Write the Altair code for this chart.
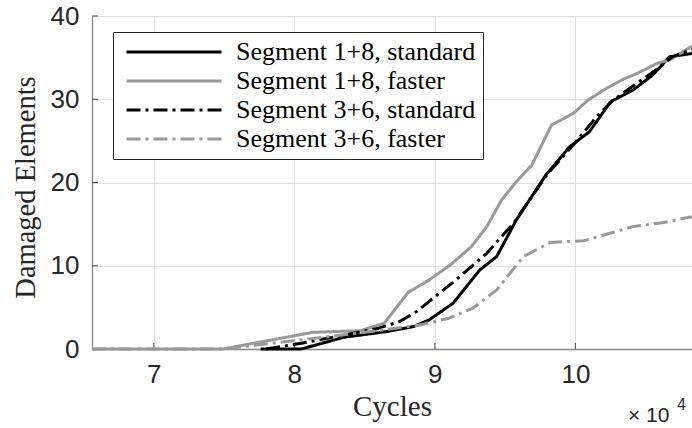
import altair as alt
import pandas as pd

# ---------------- data (x in units of 10^4 cycles) ----------------
series_names = [
    "Segment 1+8, standard",
    "Segment 1+8, faster",
    "Segment 3+6, standard",
    "Segment 3+6, faster",
]

s18_std_x = [7.76, 8.05, 8.35, 8.66, 8.85, 8.96, 9.13, 9.32, 9.44, 9.58, 9.79, 9.96,
             10.10, 10.25, 10.41, 10.55, 10.67, 10.83]
s18_std_y = [0, 0, 1.4, 2.1, 2.7, 3.5, 5.5, 9.5, 11.1, 15.5, 20.9, 24.3,
             26.1, 29.7, 31.1, 32.9, 35.1, 35.5]

s18_fast_x = [6.56, 7.49, 8.13, 8.47, 8.64, 8.81, 8.96, 9.11, 9.26, 9.37, 9.475, 9.58,
              9.69, 9.83, 9.985, 10.09, 10.22, 10.34, 10.44, 10.58, 10.67, 10.83]
s18_fast_y = [0, 0, 2.0, 2.2, 3.1, 6.8, 8.3, 10.1, 12.3, 14.7, 17.9, 20.1,
              22.1, 26.9, 28.3, 29.9, 31.3, 32.4, 33.1, 34.3, 34.7, 36.4]

s36_std_x = [7.80, 8.05, 8.30, 8.60, 8.75, 8.87, 9.15, 9.37, 9.56, 9.80, 10.00,
             10.15, 10.27, 10.41, 10.58, 10.69, 10.83]
s36_std_y = [0, 0.7, 1.5, 2.5, 3.3, 4.5, 8.3, 11.5, 15.1, 21.0, 24.8,
             27.9, 29.9, 31.6, 33.6, 35.1, 36.0]

s36_fast_x = [6.56, 7.49, 8.00, 8.50, 8.90, 9.10, 9.27, 9.44, 9.63, 9.82, 10.06,
              10.41, 10.63, 10.83]
s36_fast_y = [0, 0, 1.0, 2.0, 2.9, 3.7, 4.9, 7.1, 11.1, 12.8, 13.0,
              14.7, 15.2, 15.9]

x_ticks = [7, 8, 9, 10]
y_ticks = [0, 10, 20, 30, 40]

series_colors = ["#000000", "#999999", "#000000", "#999999"]
series_dashes = [[1, 0], [1, 0], [14, 5, 3, 5], [14, 5, 3, 5]]

# ---------------- build table ----------------
rows = []
for order, (name, xs, ys) in enumerate(zip(
        series_names,
        [s18_std_x, s18_fast_x, s36_std_x, s36_fast_x],
        [s18_std_y, s18_fast_y, s36_std_y, s36_fast_y])):
    for xv, yv in zip(xs, ys):
        rows.append({"series": name, "cycles": xv, "damaged": yv, "k": order})
df = pd.DataFrame(rows)

W, H = 600, 333
x_scale = alt.Scale(domain=[6.56, 10.83], nice=False, zero=False)
y_scale = alt.Scale(domain=[0, 40], nice=False)

x_axis = alt.Axis(values=x_ticks, title="Cycles", grid=True,
                  titleFont="Liberation Serif", titleFontSize=29,
                  titleFontWeight="normal", titleColor="#262626",
                  titleX=300, titleY=66, titleBaseline="alphabetic",
                  titleAlign="center",
                  labelFont="Liberation Sans", labelFontSize=26,
                  labelColor="#262626", labelPadding=12,
                  labelFlush=False, labelOverlap=False,
                  ticks=False, tickSize=0,
                  domainColor="#888888", domainWidth=1.3,
                  gridColor="#e0e0e0", gridWidth=1)
y_axis = alt.Axis(values=y_ticks, title="Damaged Elements", grid=True,
                  titleFont="Liberation Serif", titleFontSize=28.5,
                  titleFontWeight="normal", titleColor="#262626",
                  titleX=-67, titleY=171, titleAngle=270,
                  titleBaseline="middle", titleAlign="center",
                  labelFont="Liberation Sans", labelFontSize=26,
                  labelColor="#262626", labelPadding=13,
                  labelFlush=False, labelOverlap=False,
                  ticks=False, tickSize=0,
                  domainColor="#888888", domainWidth=1.3,
                  gridColor="#e0e0e0", gridWidth=1)

legend = alt.Legend(
    title=None,
    orient="none",
    legendX=21,
    legendY=16,
    padding=7,
    strokeColor="#262626",
    fillColor="white",
    cornerRadius=0,
    labelFont="Liberation Serif",
    labelFontSize=26,
    labelColor="black",
    labelLimit=0,
    labelOffset=90,
    rowPadding=3,
    symbolType="M-1.3,0L17.7,0",
    symbolSize=100,
    symbolStrokeWidth=3,
    symbolOpacity=1,
)

lines = alt.Chart(df).mark_line(strokeWidth=3, strokeJoin="round").encode(
    x=alt.X("cycles:Q", scale=x_scale, axis=x_axis),
    y=alt.Y("damaged:Q", scale=y_scale, axis=y_axis),
    color=alt.Color("series:N", scale=alt.Scale(domain=series_names, range=series_colors),
                    legend=legend),
    strokeDash=alt.StrokeDash("series:N", scale=alt.Scale(domain=series_names, range=series_dashes),
                              legend=legend),
    order=alt.Order("cycles:Q"),
)

ytick_marks = alt.Chart(pd.DataFrame({"v": y_ticks})).mark_rule(
    color="#444444", strokeWidth=1).encode(
    y=alt.Y("v:Q", scale=y_scale, axis=y_axis),
    x=alt.value(0), x2=alt.value(6))

xtick_marks = alt.Chart(pd.DataFrame({"v": x_ticks})).mark_rule(
    color="#444444", strokeWidth=1).encode(
    x=alt.X("v:Q", scale=x_scale, axis=x_axis),
    y=alt.value(H), y2=alt.value(H - 6))

mult_text = alt.Chart(pd.DataFrame({"t": ["× 10"]})).mark_text(
    align="left", baseline="alphabetic", font="Liberation Sans",
    fontSize=21, color="#262626").encode(
    text="t:N", x=alt.value(536), y=alt.value(406))

exp_text = alt.Chart(pd.DataFrame({"t": ["4"]})).mark_text(
    align="left", baseline="alphabetic", font="Liberation Sans",
    fontSize=16, color="#262626").encode(
    text="t:N", x=alt.value(585), y=alt.value(394))

chart = alt.layer(ytick_marks, xtick_marks, lines, mult_text, exp_text).properties(
    width=W, height=H,
    autosize=alt.AutoSizeParams(type="none"),
    padding={"left": 92, "top": 16, "right": 0, "bottom": 79},
    background="white",
).configure_view(stroke=None)

chart.save("out.html", embed_options={"renderer": "svg", "actions": False})
